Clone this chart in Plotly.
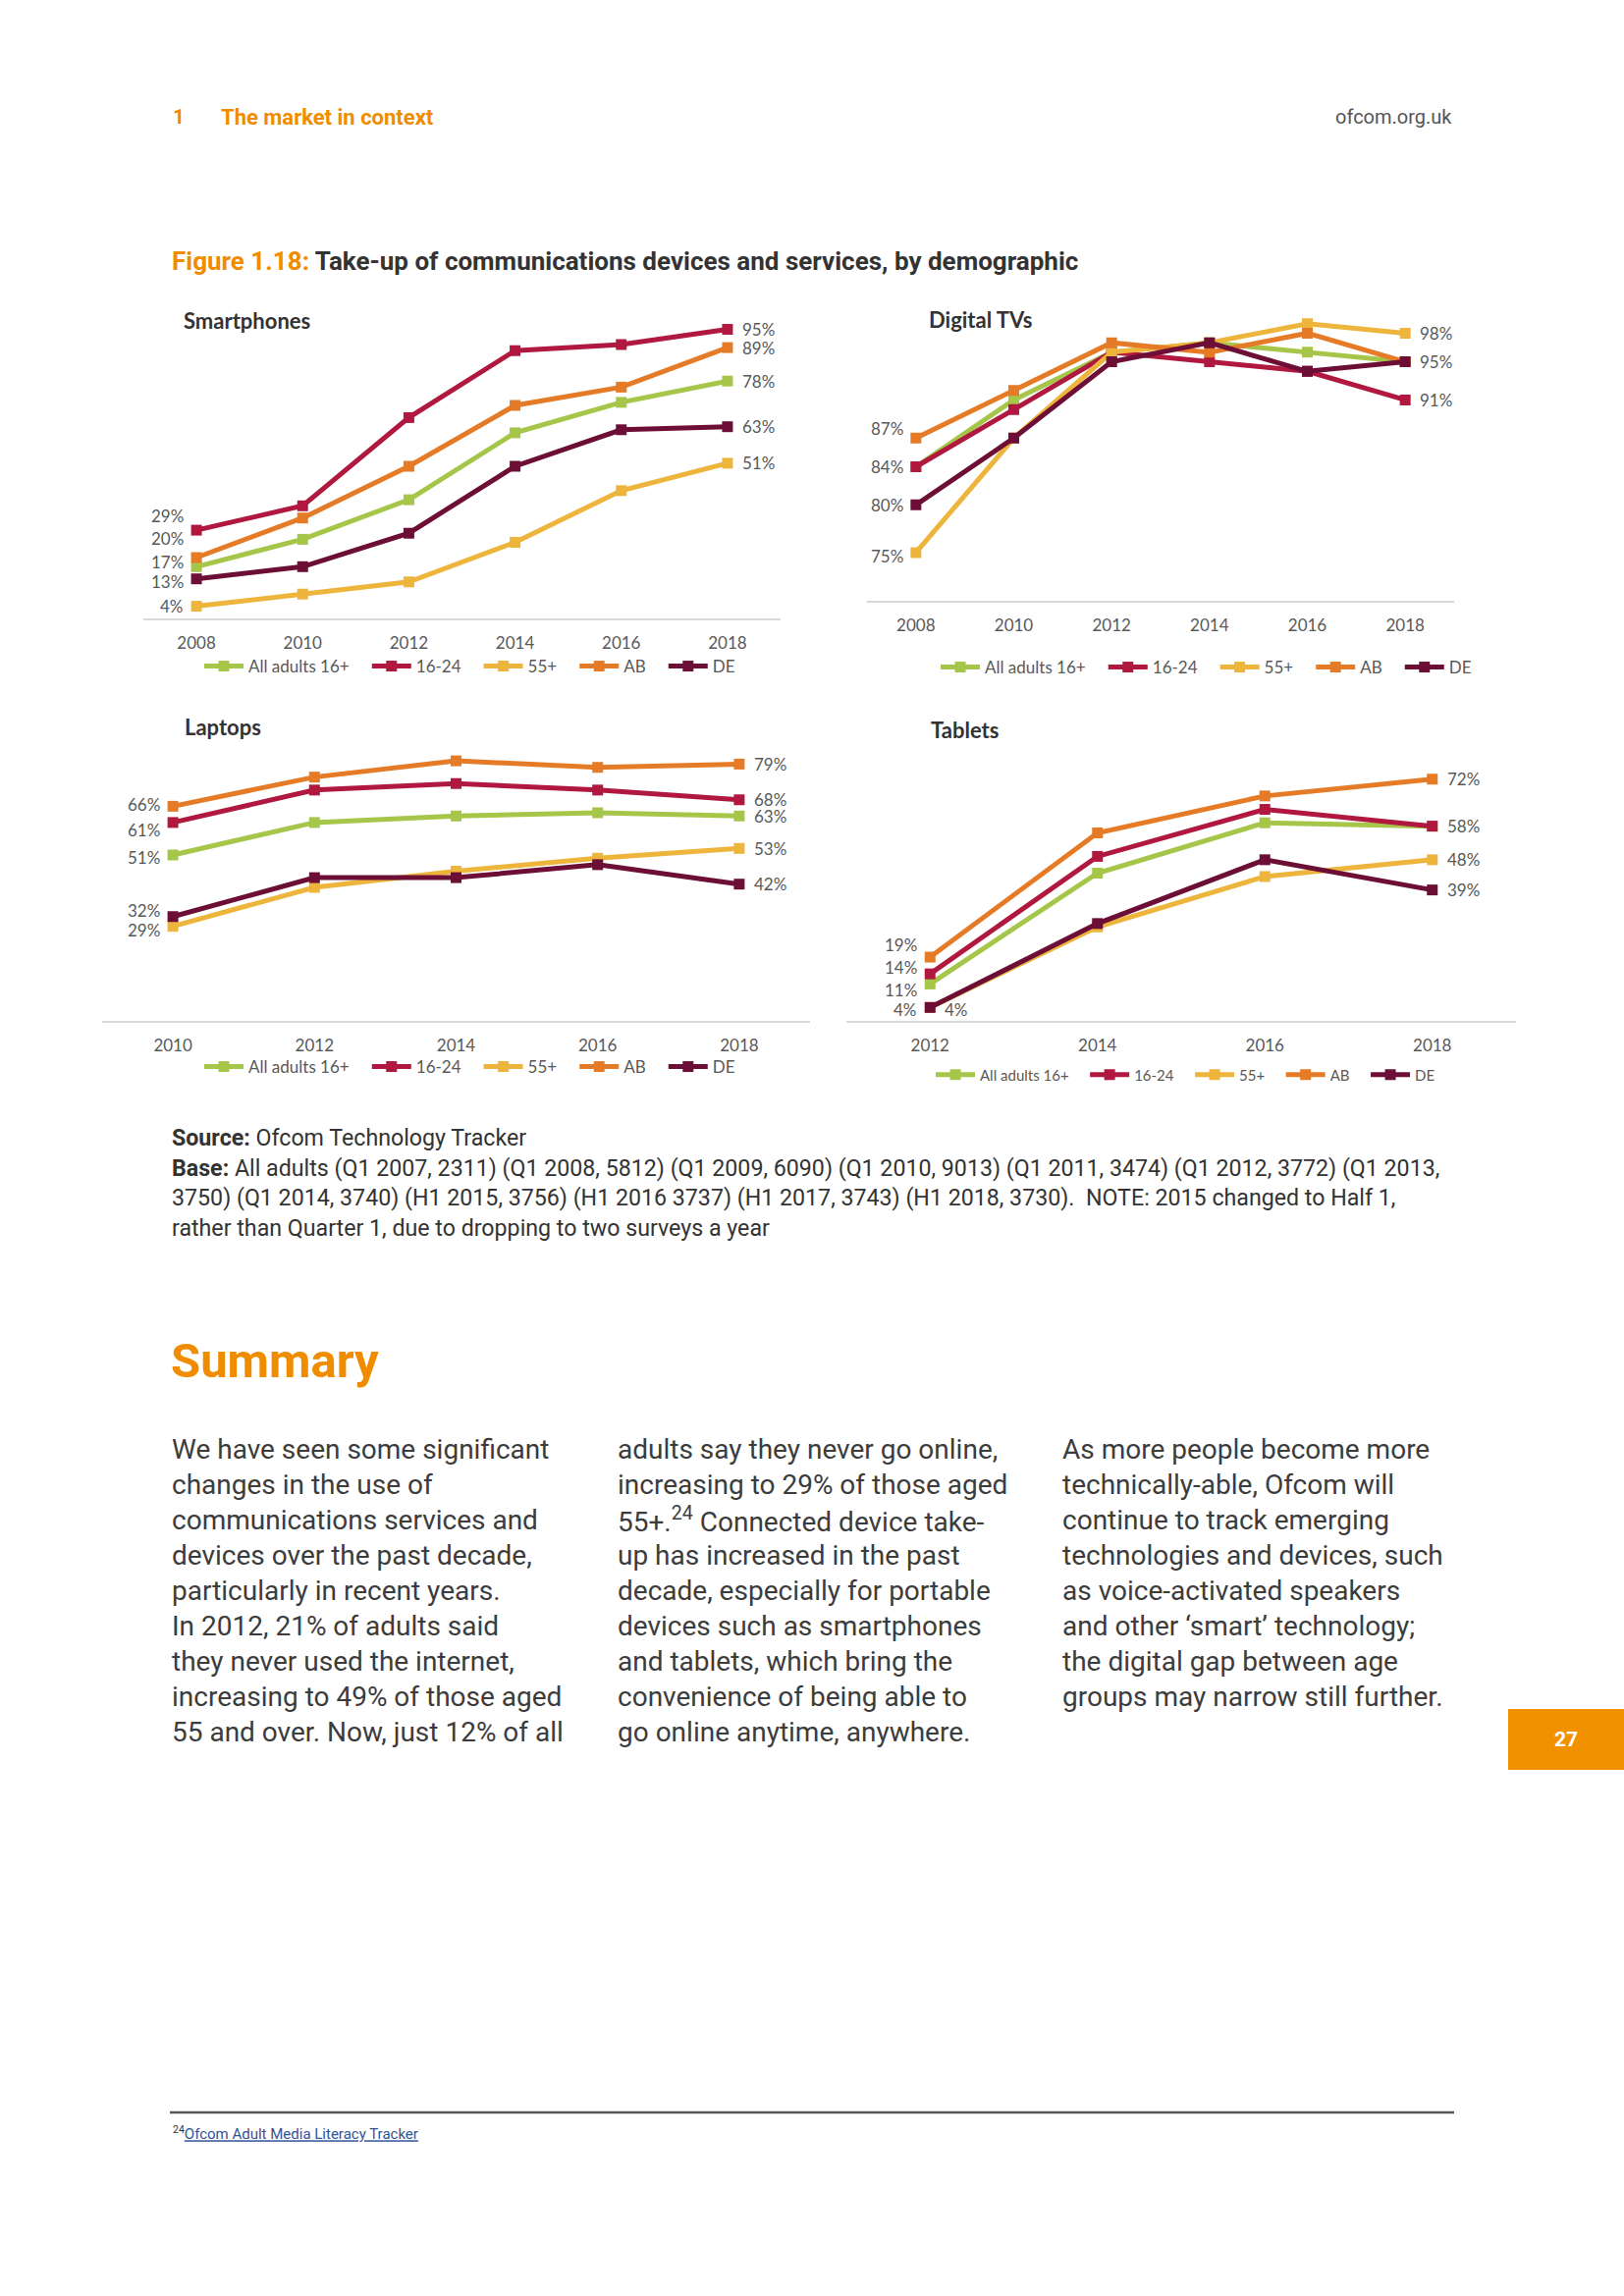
import plotly.graph_objects as go

W, H = 1654, 2339

# ---------------- data ----------------
series_names = ["All adults 16+", "16-24", "55+", "AB", "DE"]
series_colors = ["#A6C64A", "#B0183F", "#EDB53C", "#E57B26", "#6C0E35"]

smart_years = [2008, 2010, 2012, 2014, 2016, 2018]
smart_all = [17, 26, 39, 61, 71, 78]
smart_1624 = [29, 37, 66, 88, 90, 95]
smart_55 = [4, 8, 12, 25, 42, 51]
smart_ab = [20, 33, 50, 70, 76, 89]
smart_de = [13, 17, 28, 50, 62, 63]

dtv_years = [2008, 2010, 2012, 2014, 2016, 2018]
dtv_all = [84, 91, 96, 97, 96, 95]
dtv_1624 = [84, 90, 96, 95, 94, 91]
dtv_55 = [75, 87, 96, 97, 99, 98]
dtv_ab = [87, 92, 97, 96, 98, 95]
dtv_de = [80, 87, 95, 97, 94, 95]

lap_years = [2010, 2012, 2014, 2016, 2018]
lap_all = [51, 61, 63, 64, 63]
lap_1624 = [61, 71, 73, 71, 68]
lap_55 = [29, 41, 46, 50, 53]
lap_ab = [66, 75, 80, 78, 79]
lap_de = [32, 44, 44, 48, 42]

tab_years = [2012, 2014, 2016, 2018]
tab_all = [11, 44, 59, 58]
tab_1624 = [14, 49, 63, 58]
tab_55 = [4, 28, 43, 48]
tab_ab = [19, 56, 67, 72]
tab_de = [4, 29, 48, 39]

chart_titles = ["Smartphones", "Digital TVs", "Laptops", "Tablets"]

# ---------------- helpers ----------------
def px(x):
    return x / W

def py(y):
    return 1 - y / H

LABEL_FONT = "Lato, 'Open Sans', sans-serif"
TEXT_FONT = "Roboto, 'Open Sans', sans-serif"
GRAY = "#595959"
NB = "\u00a0\u00a0\u00a0"  # legend spacing

fig = go.Figure()

charts = [
    dict(key="", years=smart_years,
         data=[smart_all, smart_1624, smart_55, smart_ab, smart_de],
         xdom=(146, 795), ydom=(320, 630), xr=[2007, 2019], yr=[0, 100],
         legend=dict(x=203, y=679, size=17),
         title=(185, 327),
         # (series index, which end, side, yshift)
         labels=[(1, 0, "l", 15), (3, 0, "l", 19), (0, 0, "l", 5), (4, 0, "l", -3), (2, 0, "l", 0),
                 (1, -1, "r", 0), (3, -1, "r", 0), (0, -1, "r", 0), (4, -1, "r", 0), (2, -1, "r", 0)]),
    dict(key="2", years=dtv_years,
         data=[dtv_all, dtv_1624, dtv_55, dtv_ab, dtv_de],
         xdom=(883, 1481), ydom=(320, 611.5), xr=[2007, 2019], yr=[70, 100],
         legend=dict(x=953, y=680, size=17),
         title=(944, 325),
         labels=[(3, 0, "l", 10), (1, 0, "l", 0), (4, 0, "l", 0), (2, 0, "l", -4),
                 (2, -1, "r", 0), (4, -1, "r", 0), (1, -1, "r", 0)]),
    dict(key="3", years=lap_years,
         data=[lap_all, lap_1624, lap_55, lap_ab, lap_de],
         xdom=(104, 825), ydom=(709, 1039.5), xr=[2009, 2019], yr=[0, 100],
         legend=dict(x=203, y=1087, size=17),
         title=(186, 740),
         labels=[(3, 0, "l", 2), (1, 0, "l", -8), (0, 0, "l", -3), (4, 0, "l", 6), (2, 0, "l", -4),
                 (3, -1, "r", 0), (1, -1, "r", 0), (0, -1, "r", 0), (2, -1, "r", 0), (4, -1, "r", 0)]),
    dict(key="4", years=tab_years,
         data=[tab_all, tab_1624, tab_55, tab_ab, tab_de],
         xdom=(862, 1544), ydom=(698, 1040), xr=[2011, 2019], yr=[0, 100],
         legend=dict(x=948, y=1095, size=15),
         title=(946, 743),
         labels=[(3, 0, "l", 13), (1, 0, "l", 7), (0, 0, "l", -6), (2, 0, "l", -2), (4, 0, "r", -2),
                 (3, -1, "r", 0), (1, -1, "r", 0), (2, -1, "r", 0), (4, -1, "r", 0)]),
]

layout_axes = {}
for ci, ch in enumerate(charts):
    k = ch["key"]
    xname, yname = "x" + k, "y" + k
    legname = "legend" + k
    for si, (name, col) in enumerate(zip(series_names, series_colors)):
        fig.add_trace(go.Scatter(
            x=ch["years"], y=ch["data"][si], name=name + NB, mode="lines+markers",
            line=dict(color=col, width=5),
            marker=dict(symbol="square", size=11, color=col),
            xaxis=xname, yaxis=yname, legend=legname, showlegend=True,
            hoverinfo="skip",
        ))
    layout_axes["xaxis" + k] = dict(
        domain=[px(ch["xdom"][0]), px(ch["xdom"][1])], range=ch["xr"], anchor=yname,
        tickvals=ch["years"], ticktext=[str(v) for v in ch["years"]],
        showline=True, linecolor="#D9D9D9", linewidth=2, showgrid=False, zeroline=False,
        ticks="", ticklabelstandoff=9,
        tickfont=dict(family=LABEL_FONT, size=17, color=GRAY), fixedrange=True,
    )
    layout_axes["yaxis" + k] = dict(
        domain=[py(ch["ydom"][1]), py(ch["ydom"][0])], range=ch["yr"], anchor=xname,
        visible=False, fixedrange=True,
    )
    lg = ch["legend"]
    layout_axes[legname] = dict(
        orientation="h", x=px(lg["x"]), y=py(lg["y"]), xanchor="left", yanchor="middle",
        xref="paper", yref="paper", bgcolor="rgba(0,0,0,0)",
        font=dict(family=LABEL_FONT, size=lg["size"], color=GRAY),
        itemwidth=40, tracegroupgap=0, itemclick=False, itemdoubleclick=False,
    )
    # chart title
    tx, ty = ch["title"]
    fig.add_annotation(x=px(tx), y=py(ty), xref="paper", yref="paper", xanchor="left",
                       yanchor="middle", showarrow=False,
                       text="<b>" + chart_titles[ci] + "</b>",
                       font=dict(family=LABEL_FONT, size=22, color="#333333"))
    # data labels
    for si, end, side, ys in ch["labels"]:
        yrs = ch["years"]
        vals = ch["data"][si]
        idx = 0 if end == 0 else len(vals) - 1
        if side == "l":
            xa, xs = "right", -11
        else:
            xa, xs = "left", 13
        fig.add_annotation(x=yrs[idx], y=vals[idx], xref=xname, yref=yname,
                           xanchor=xa, yanchor="middle", xshift=xs, yshift=ys,
                           showarrow=False, text=f"{vals[idx]}%",
                           font=dict(family=LABEL_FONT, size=17, color=GRAY))

fig.update_layout(**layout_axes)

# ---------------- page text ----------------
ORANGE = "#F08C00"

def text(x, y, s, size, color="#404040", anchor="left", family=TEXT_FONT):
    fig.add_annotation(x=px(x), y=py(y), xref="paper", yref="paper", xanchor=anchor,
                       yanchor="middle", showarrow=False, text=s, align=anchor,
                       font=dict(family=family, size=size, color=color))

# header
text(174, 119, "<b>1</b>", 21, ORANGE)
text(223, 119, "<b>The market in context</b>", 22, ORANGE)
text(1481, 119, "ofcom.org.uk", 20, "#555555", anchor="right")

# figure title
text(173, 266, "<b><span style='color:%s'>Figure 1.18:</span> Take-up of communications devices and services, by demographic</b>" % ORANGE,
     26, "#333333")

# source
source_lines = [
    "<b>Source:</b> Ofcom Technology Tracker",
    "<b>Base:</b> All adults (Q1 2007, 2311) (Q1 2008, 5812) (Q1 2009, 6090) (Q1 2010, 9013) (Q1 2011, 3474) (Q1 2012, 3772) (Q1 2013,",
    "3750) (Q1 2014, 3740) (H1 2015, 3756) (H1 2016 3737) (H1 2017, 3743) (H1 2018, 3730).  NOTE: 2015 changed to Half 1,",
    "rather than Quarter 1, due to dropping to two surveys a year",
]
for i, s in enumerate(source_lines):
    text(173, 1159 + i * 30.6, s, 23.2, "#333333")

# summary
text(172, 1386, "<b>Summary</b>", 49, ORANGE)

col1 = ["We have seen some significant", "changes in the use of", "communications services and",
        "devices over the past decade,", "particularly in recent years.", "In 2012, 21% of adults said",
        "they never used the internet,", "increasing to 49% of those aged", "55 and over. Now, just 12% of all"]
col2 = ["adults say they never go online,", "increasing to 29% of those aged",
        "55+.<sup>24</sup> Connected device take-", "up has increased in the past",
        "decade, especially for portable", "devices such as smartphones", "and tablets, which bring the",
        "convenience of being able to", "go online anytime, anywhere."]
col3 = ["As more people become more", "technically-able, Ofcom will", "continue to track emerging",
        "technologies and devices, such", "as voice-activated speakers", "and other \u2018smart\u2019 technology;",
        "the digital gap between age", "groups may narrow still further."]
for cx, col in [(173, col1), (627, col2), (1080, col3)]:
    for i, s in enumerate(col):
        text(cx, 1476 + i * 36.1, s, 28, "#3C3C3C")

# page number box
fig.add_shape(type="rect", xref="paper", yref="paper", x0=px(1536), x1=px(1654),
              y0=py(1803), y1=py(1741), fillcolor="#F29100", line=dict(width=0), layer="below")
text(1595, 1772, "<b>27</b>", 21, "#FFFFFF", anchor="center")

# footnote
fig.add_shape(type="line", xref="paper", yref="paper", x0=px(173), x1=px(1481),
              y0=py(2152), y1=py(2152), line=dict(color="#555555", width=2.5))
text(174, 2173, "<sup>24</sup><span style='color:#2F5496'><u>Ofcom Adult Media Literacy Tracker</u></span>",
     15, "#333333")

fig.update_layout(width=W, height=H, margin=dict(l=0, r=0, t=0, b=0),
                  paper_bgcolor="white", plot_bgcolor="white", showlegend=True)

fig.write_html("out.html", config={"displayModeBar": False},
               post_script="document.body.style.margin='0';")
